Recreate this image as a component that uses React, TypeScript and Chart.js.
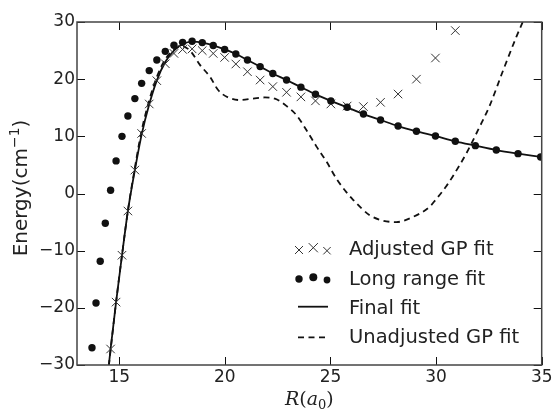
import React, { useEffect, useRef } from 'react';
import { Chart, registerables } from 'chart.js';

Chart.register(...registerables);

// ---- data ----
const longRangeR = [13.71, 13.9, 14.1, 14.34, 14.59, 14.85, 15.13, 15.41, 15.74, 16.06, 16.42, 16.78, 17.18, 17.59, 18.0, 18.45, 18.93, 19.45, 19.99, 20.52, 21.07, 21.67, 22.27, 22.92, 23.6, 24.29, 25.02, 25.79, 26.56, 27.37, 28.2, 29.07, 29.97, 30.91, 31.86, 32.85, 33.88, 34.95];
const longRangeE = [-26.97, -19.15, -11.86, -5.2, 0.56, 5.7, 10.0, 13.56, 16.6, 19.27, 21.5, 23.35, 24.87, 25.92, 26.44, 26.62, 26.4, 25.9, 25.2, 24.4, 23.35, 22.2, 21.0, 19.85, 18.6, 17.35, 16.2, 15.08, 13.9, 12.86, 11.8, 10.88, 10.06, 9.13, 8.37, 7.6, 6.97, 6.39];

const adjustedR = [14.59, 14.85, 15.13, 15.41, 15.74, 16.06, 16.42, 16.78, 17.18, 17.59, 18.0, 18.45, 18.93, 19.45, 19.99, 20.52, 21.07, 21.67, 22.27, 22.92, 23.6, 24.29, 25.02, 25.79, 26.56, 27.37, 28.2, 29.07, 29.97, 30.91];
const adjustedE = [-27.2, -19.0, -10.8, -3.06, 4.1, 10.5, 15.66, 19.73, 22.7, 24.5, 25.2, 25.3, 25.0, 24.5, 23.8, 22.65, 21.3, 19.85, 18.7, 17.7, 16.9, 16.2, 15.66, 15.3, 15.2, 15.95, 17.4, 20.0, 23.7, 28.5];

const finalR = [14.45, 14.59, 14.85, 15.13, 15.41, 15.74, 16.06, 16.42, 16.78, 17.18, 17.59, 18.0, 18.45, 18.93, 19.45, 19.99, 20.52, 21.07, 21.67, 22.27, 22.92, 23.6, 24.29, 25.02, 25.79, 26.56, 27.37, 28.2, 29.07, 29.97, 30.91, 31.86, 32.85, 33.88, 34.95, 35.2];
const finalE = [-32.0, -27.2, -19.0, -10.8, -3.06, 4.1, 10.3, 15.6, 19.8, 23.0, 25.0, 26.1, 26.55, 26.4, 25.9, 25.2, 24.4, 23.35, 22.2, 21.0, 19.85, 18.6, 17.35, 16.2, 15.08, 13.9, 12.86, 11.8, 10.88, 10.06, 9.13, 8.37, 7.6, 6.97, 6.39, 6.25];

const unadjR = [14.45, 14.85, 15.13, 15.41, 15.74, 16.06, 16.42, 16.8, 17.2, 17.6, 18.0, 18.35, 18.82, 19.3, 19.68, 20.16, 20.71, 21.34, 21.89, 22.37, 22.92, 23.39, 23.86, 24.34, 24.81, 25.28, 25.76, 26.07, 26.86, 27.49, 28.12, 28.9, 29.7, 30.0, 30.49, 31.12, 31.43, 31.6, 32.0, 32.53, 33.17, 33.8, 34.22, 35.0];
const unadjE = [-32.0, -19.0, -10.8, -3.0, 4.5, 11.0, 16.3, 20.6, 23.6, 25.2, 25.7, 25.0, 22.5, 20.4, 18.1, 16.8, 16.35, 16.6, 16.8, 16.6, 15.3, 13.7, 11.1, 8.2, 5.6, 2.6, 0.2, -1.1, -3.8, -4.75, -5.0, -4.1, -2.3, -1.0, 1.3, 5.0, 7.0, 8.2, 11.2, 15.3, 21.5, 27.4, 31.0, 38.0];

const xTicks = [15, 20, 25, 30, 35];
const yTicks = [-30, -20, -10, 0, 10, 20, 30];

const legendLabels = ['Adjusted GP fit', 'Long range fit', 'Final fit', 'Unadjusted GP fit'];

const SANS = '"DejaVu Sans", sans-serif';
const SERIF = '"DejaVu Serif", serif';
const TEXT = '#222';

const fmt = (v: number) => String(v).replace('-', '\u2212');
const toPts = (xs: number[], ys: number[]) => xs.map((x, i) => ({ x, y: ys[i] }));

function drawCross(ctx: CanvasRenderingContext2D, x: number, y: number, h: number) {
  ctx.beginPath();
  ctx.moveTo(x - h, y - h);
  ctx.lineTo(x + h, y + h);
  ctx.moveTo(x - h, y + h);
  ctx.lineTo(x + h, y - h);
  ctx.stroke();
}

const decorPlugin = {
  id: 'decor',
  afterDraw(chart: any) {
    const { ctx, chartArea: a, scales } = chart;
    const xs = scales.x;
    const ys = scales.y;
    ctx.save();
    // inward ticks on all four sides
    ctx.strokeStyle = '#111';
    ctx.lineWidth = 1;
    ctx.beginPath();
    const L = 8;
    for (const v of xTicks) {
      const px = Math.round(xs.getPixelForValue(v)) + 0.5;
      ctx.moveTo(px, a.bottom);
      ctx.lineTo(px, a.bottom - L);
      ctx.moveTo(px, a.top);
      ctx.lineTo(px, a.top + L);
    }
    for (const v of yTicks) {
      const py = Math.round(ys.getPixelForValue(v)) + 0.5;
      ctx.moveTo(a.left, py);
      ctx.lineTo(a.left + L, py);
      ctx.moveTo(a.right, py);
      ctx.lineTo(a.right - L, py);
    }
    ctx.stroke();
    // frame
    ctx.strokeStyle = '#444';
    ctx.lineWidth = 1.5;
    ctx.strokeRect(a.left, a.top, a.right - a.left, a.bottom - a.top);

    // legend (no frame)
    const tx = 349;
    const baselines = [255, 284.5, 313.5, 342.5];
    ctx.fillStyle = TEXT;
    ctx.font = `19.5px ${SANS}`;
    ctx.textAlign = 'left';
    ctx.textBaseline = 'alphabetic';
    legendLabels.forEach((t, i) => ctx.fillText(t, tx, baselines[i]));
    const hx = [299, 313.3, 327];
    // crosses
    ctx.strokeStyle = '#333';
    ctx.lineWidth = 1;
    const cy = [250, 247.7, 250.7];
    const cs = [4, 4.6, 3.7];
    hx.forEach((x, i) => drawCross(ctx, x, cy[i], cs[i]));
    // dots
    ctx.fillStyle = '#111';
    const dy = [279, 277.3, 280];
    const ds = [3.7, 4.0, 3.4];
    hx.forEach((x, i) => {
      ctx.beginPath();
      ctx.arc(x, dy[i], ds[i], 0, Math.PI * 2);
      ctx.fill();
    });
    // solid
    ctx.strokeStyle = '#111';
    ctx.lineWidth = 1.8;
    ctx.beginPath();
    ctx.moveTo(298, 306.7);
    ctx.lineTo(328, 306.7);
    ctx.stroke();
    // dashed
    ctx.setLineDash([6, 4.5]);
    ctx.beginPath();
    ctx.moveTo(298, 337.3);
    ctx.lineTo(328, 337.3);
    ctx.stroke();
    ctx.setLineDash([]);

    // y-axis title: Energy(cm^-1)
    ctx.fillStyle = TEXT;
    ctx.save();
    ctx.translate(27, 188);
    ctx.rotate(-Math.PI / 2);
    const big = `20px ${SANS}`;
    const small = `14px ${SANS}`;
    ctx.font = big;
    const w1 = ctx.measureText('Energy(cm').width;
    const w3 = ctx.measureText(')').width;
    ctx.font = small;
    const w2 = ctx.measureText('\u22121').width;
    let x0 = -(w1 + w2 + w3) / 2;
    ctx.font = big;
    ctx.fillText('Energy(cm', x0, 0);
    x0 += w1;
    ctx.font = small;
    ctx.fillText('\u22121', x0, -8);
    x0 += w2;
    ctx.font = big;
    ctx.fillText(')', x0, 0);
    ctx.restore();

    // x-axis title: R(a_0)
    const cx = (a.left + a.right) / 2;
    const it = `italic 19px ${SERIF}`;
    const rm = `19px ${SERIF}`;
    const sub = `13px ${SERIF}`;
    ctx.font = it;
    const r1 = ctx.measureText('R').width;
    const r3 = ctx.measureText('a').width;
    ctx.font = rm;
    const r2 = ctx.measureText('(').width;
    const r5 = ctx.measureText(')').width;
    ctx.font = sub;
    const r4 = ctx.measureText('0').width;
    let xx = cx - (r1 + r2 + r3 + r4 + r5) / 2;
    const by = 404.5;
    ctx.font = it; ctx.fillText('R', xx, by); xx += r1;
    ctx.font = rm; ctx.fillText('(', xx, by); xx += r2;
    ctx.font = it; ctx.fillText('a', xx, by); xx += r3;
    ctx.font = sub; ctx.fillText('0', xx, by + 4); xx += r4;
    ctx.font = rm; ctx.fillText(')', xx, by);

    ctx.restore();
  },
};

export default function App() {
  const ref = useRef<HTMLCanvasElement>(null);
  useEffect(() => {
    const canvas = ref.current;
    if (!canvas) return;
    const chart = new Chart(canvas, {
      type: 'line',
      data: {
        datasets: [
          {
            label: 'Long range fit',
            data: toPts(longRangeR, longRangeE),
            showLine: false,
            pointStyle: 'circle',
            pointRadius: 3.7,
            pointBackgroundColor: '#111',
            pointBorderColor: '#111',
            pointBorderWidth: 0,
          },
          {
            label: 'Adjusted GP fit',
            data: toPts(adjustedR, adjustedE),
            showLine: false,
            pointStyle: 'crossRot',
            pointRadius: 6,
            pointBorderColor: '#333',
            pointBorderWidth: 1,
          },
          {
            label: 'Final fit',
            data: toPts(finalR, finalE),
            borderColor: '#111',
            borderWidth: 1.8,
            pointRadius: 0,
            cubicInterpolationMode: 'monotone',
          },
          {
            label: 'Unadjusted GP fit',
            data: toPts(unadjR, unadjE),
            borderColor: '#111',
            borderWidth: 1.8,
            borderDash: [6, 4.5],
            pointRadius: 0,
            cubicInterpolationMode: 'monotone',
          },
        ],
      },
      options: {
        responsive: false,
        animation: false,
        events: [],
        layout: { padding: { top: 22, right: 15.3, left: 0, bottom: 0 } },
        plugins: { legend: { display: false }, tooltip: { enabled: false } },
        scales: {
          x: {
            type: 'linear',
            min: 13,
            max: 35,
            afterBuildTicks: (s: any) => { s.ticks = xTicks.map((v) => ({ value: v })); },
            afterFit: (s: any) => { s.height = 45; },
            grid: { display: false, drawTicks: false },
            border: { display: false },
            ticks: {
              autoSkip: false,
              maxRotation: 0,
              padding: 2,
              color: TEXT,
              font: { family: SANS, size: 17 },
              callback: (v: any) => fmt(Number(v)),
            },
          },
          y: {
            type: 'linear',
            min: -30,
            max: 30,
            afterBuildTicks: (s: any) => { s.ticks = yTicks.map((v) => ({ value: v })); },
            afterFit: (s: any) => { s.width = 77; },
            grid: { display: false, drawTicks: false },
            border: { display: false },
            ticks: {
              autoSkip: false,
              padding: 2,
              color: TEXT,
              font: { family: SANS, size: 17 },
              callback: (v: any) => fmt(Number(v)),
            },
          },
        },
      },
      plugins: [decorPlugin],
    } as any);
    return () => chart.destroy();
  }, []);
  return (
    <div style={{ position: 'fixed', left: 0, top: 0, width: 557, height: 410, background: '#fff' }}>
      <canvas ref={ref} width={557} height={410} style={{ display: 'block' }} />
    </div>
  );
}
